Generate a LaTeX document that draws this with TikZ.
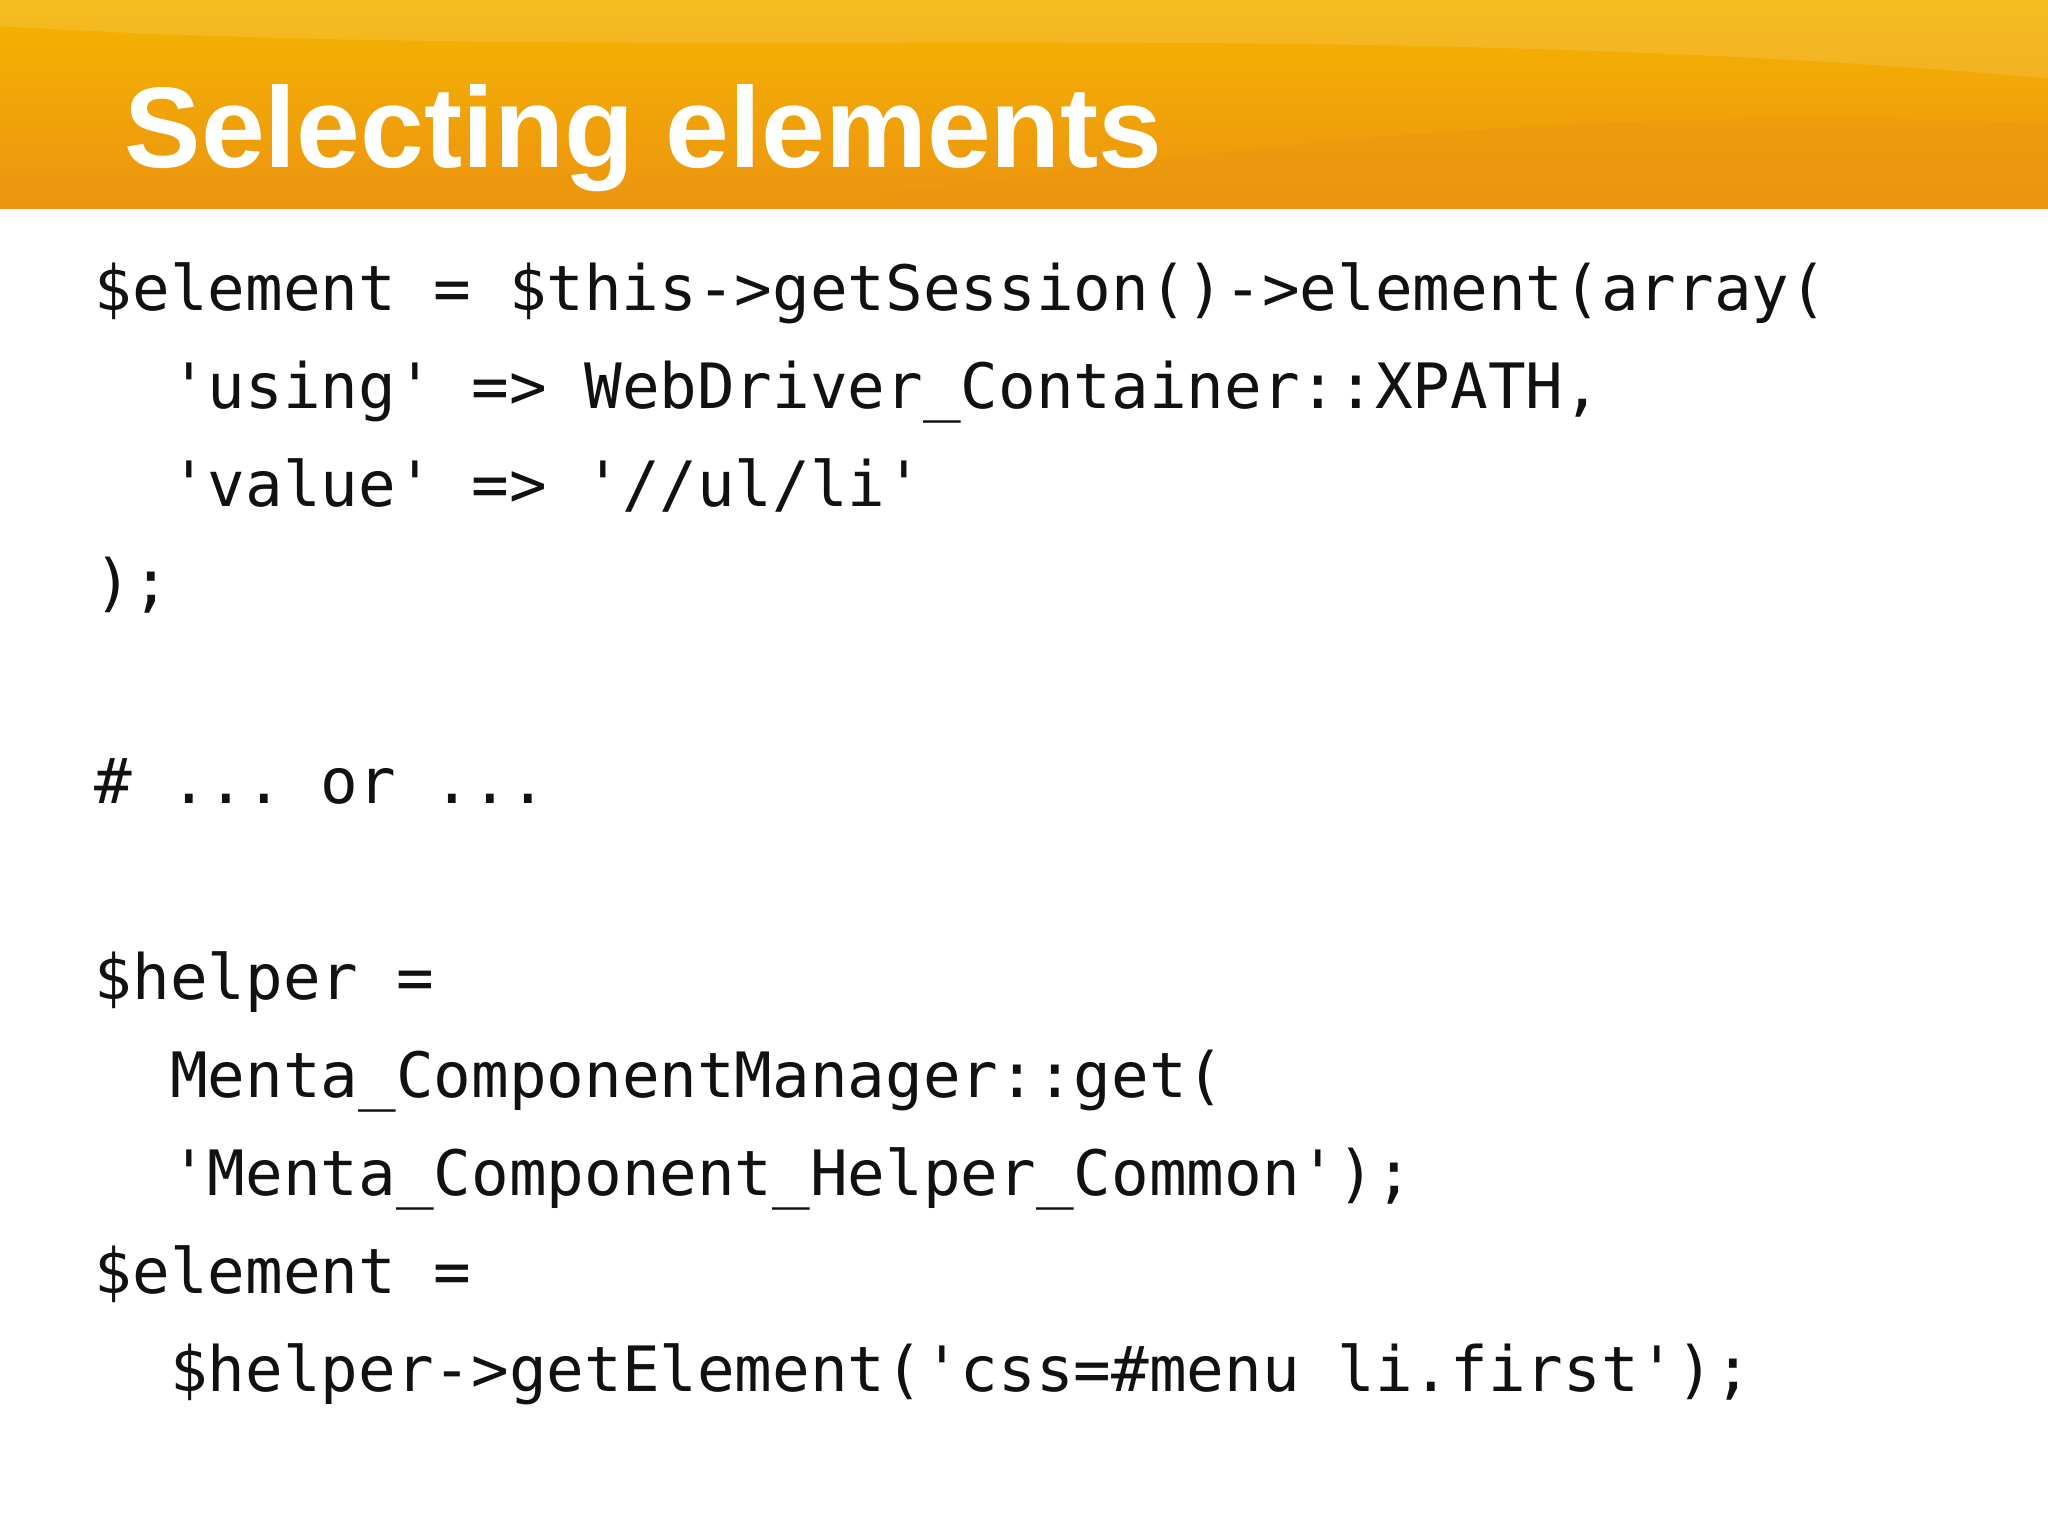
\documentclass[tikz,border=0pt]{standalone}
\usepackage{fontspec}
\setmainfont{Liberation Sans}
\setmonofont{DejaVu Sans Mono}
\definecolor{hdrA}{HTML}{F5B400}
\definecolor{hdrB}{HTML}{EC9410}
\definecolor{codec}{HTML}{111111}
\tikzset{codeline/.style={anchor=base west,inner sep=0pt,font=\ttfamily\fontsize{17.8pt}{20pt}\selectfont,text=codec}}
\begin{document}
\begin{tikzpicture}[x=0.01306cm,y=-0.01306cm]
\useasboundingbox (0,0) rectangle (1568,1176);
\fill[white] (0,0) rectangle (1568,1176);
\shade[top color=hdrA,bottom color=hdrB] (0,0) rectangle (1568,160);
\fill[white,opacity=0.12] (0,20) .. controls (500,50) and (1000,10) .. (1568,60) -- (1568,0) -- (0,0) -- cycle;
\fill[hdrB,opacity=0.35] (600,160) .. controls (1000,100) and (1300,80) .. (1568,95) -- (1568,160) -- cycle;
\node[anchor=base west,inner sep=0pt,text=white,font=\bfseries\fontsize{32.6pt}{36pt}\selectfont] (title) at (95,128) {Selecting elements};
\node[codeline] (l1) at (72,238) {\$element = \$this->getSession()->element(array(};
\node[codeline] (l2) at (72,313) {\ \ 'using' => WebDriver\_Container::XPATH,};
\node[codeline] (l3) at (72,388) {\ \ 'value' => '//ul/li'};
\node[codeline] (l4) at (72,463) {);};
\node[codeline] (l5) at (72,615) {\# ... or ...};
\node[codeline] (l6) at (72,765) {\$helper =};
\node[codeline] (l7) at (72,840) {\ \ Menta\_ComponentManager::get(};
\node[codeline] (l8) at (72,915) {\ \ 'Menta\_Component\_Helper\_Common');};
\node[codeline] (l9) at (72,990) {\$element =};
\node[codeline] (l10) at (72,1065) {\ \ \$helper->getElement('css=\#menu li.first');};
\end{tikzpicture}
\end{document}
